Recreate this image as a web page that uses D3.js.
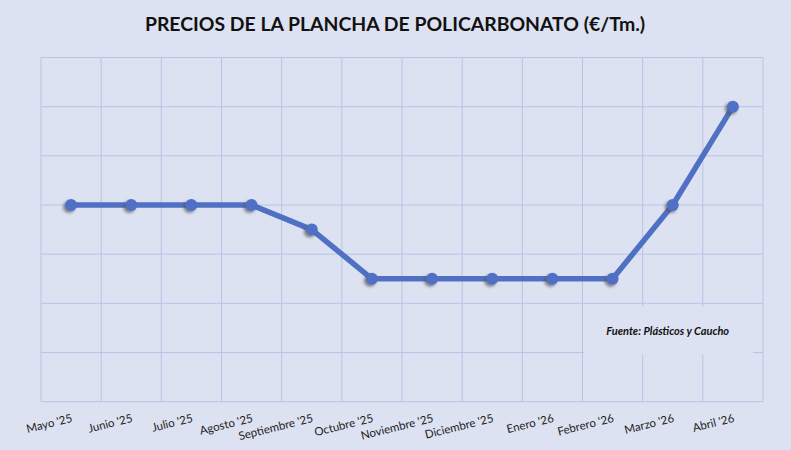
<!DOCTYPE html>
<html>
<head>
  <meta charset="utf-8">
  <title>Precios de la plancha de policarbonato</title>
  <style>
    body { margin: 0; background: #dde2f2; }
    svg { display: block; }
    .grid line { stroke: #b8c4e6; stroke-width: 1; }
    .tick-label { font-family: Lato, "Open Sans", sans-serif; font-size: 11.5px; fill: #222; }
  </style>
</head>
<body>
  <svg width="791" height="450"></svg>

  <script src="https://cdnjs.cloudflare.com/ajax/libs/d3/7.8.5/d3.min.js"></script>
  <script>
    // Datos del gráfico (el original no muestra valores en el eje Y)
    const meses = ["Mayo '25", "Junio '25", "Julio '25", "Agosto '25", "Septiembre '25", "Octubre '25",
                   "Noviembre '25", "Diciembre '25", "Enero '26", "Febrero '26", "Marzo '26", "Abril '26"];
    const precios = [2800, 2800, 2800, 2800, 2750, 2650, 2650, 2650, 2650, 2650, 2800, 3000];
    const yTicks = [2400, 2500, 2600, 2700, 2800, 2900, 3000, 3100];

    const titulo = "PRECIOS DE LA PLANCHA DE POLICARBONATO (€/Tm.)";
    const fuente = "Fuente: Plásticos y Caucho";

    const width = 791, height = 450;
    const margin = { top: 57.5, right: 28, bottom: 48.3, left: 41 };

    const svg = d3.select("svg");

    svg.append("rect")
      .attr("width", width).attr("height", height)
      .attr("fill", "#dde2f2");

    // sombra de los marcadores
    const defs = svg.append("defs");
    defs.append("filter").attr("id", "sombra")
      .attr("x", "-50%").attr("y", "-50%").attr("width", "200%").attr("height", "200%")
      .append("feDropShadow")
      .attr("dx", -2).attr("dy", 2).attr("stdDeviation", 1.5)
      .attr("flood-color", "#555").attr("flood-opacity", 0.7);

    const x = d3.scaleBand()
      .domain(meses)
      .range([margin.left, width - margin.right]);

    const y = d3.scaleLinear()
      .domain([yTicks[0], yTicks[yTicks.length - 1]])
      .range([height - margin.bottom, margin.top]);

    // Cuadrícula horizontal
    svg.append("g").attr("class", "grid")
      .selectAll("line")
      .data(yTicks)
      .join("line")
      .attr("x1", margin.left).attr("x2", width - margin.right)
      .attr("y1", d => y(d)).attr("y2", d => y(d));

    // Cuadrícula vertical (límites de categoría)
    const bordes = meses.map(m => x(m)).concat([x.range()[1]]);
    svg.append("g").attr("class", "grid")
      .selectAll("line")
      .data(bordes)
      .join("line")
      .attr("x1", d => d).attr("x2", d => d)
      .attr("y1", margin.top).attr("y2", height - margin.bottom);

    // Caja de la fuente (tapa la cuadrícula)
    const celda = x.bandwidth();
    const xCaja0 = x(meses[9]) + 2, xCaja1 = x(meses[11]) + celda - 10;
    const yCaja0 = y(yTicks[2]) + 3, yCaja1 = y(yTicks[1]) + 2;
    svg.append("rect")
      .attr("x", xCaja0).attr("y", yCaja0)
      .attr("width", xCaja1 - xCaja0).attr("height", yCaja1 - yCaja0)
      .attr("fill", "#dde2f2");
    svg.append("text")
      .attr("x", (xCaja0 + xCaja1) / 2 - 1)
      .attr("y", (yCaja0 + yCaja1) / 2 + 2)
      .attr("text-anchor", "middle")
      .attr("dominant-baseline", "middle")
      .style("font-family", "Lato, sans-serif")
      .style("font-size", "11px")
      .style("font-weight", "bold")
      .style("font-style", "italic")
      .attr("fill", "#111")
      .text(fuente);

    // Línea
    const linea = d3.line()
      .x((d, i) => x(meses[i]) + celda / 2)
      .y(d => y(d));

    svg.append("path")
      .datum(precios)
      .attr("fill", "none")
      .attr("stroke", "#5070c4")
      .attr("stroke-width", 5.5)
      .attr("stroke-linejoin", "round")
      .attr("d", linea);

    svg.append("g")
      .selectAll("circle")
      .data(precios)
      .join("circle")
      .attr("cx", (d, i) => x(meses[i]) + celda / 2)
      .attr("cy", d => y(d))
      .attr("r", 6)
      .attr("fill", "#5070c4")
      .attr("filter", "url(#sombra)");

    // Etiquetas del eje X
    svg.append("g")
      .selectAll("text")
      .data(meses)
      .join("text")
      .attr("class", "tick-label")
      .attr("text-anchor", "end")
      .attr("transform", d => `translate(${x(d) + celda / 2 + 2},${height - margin.bottom + 20}) rotate(-14)`)
      .text(d => d);

    // Título
    svg.append("text")
      .attr("x", 395)
      .attr("y", 31)
      .attr("text-anchor", "middle")
      .style("font-family", "Lato, sans-serif")
      .style("font-size", "19.4px")
      .style("font-weight", "bold")
      .attr("fill", "#111")
      .text(titulo);
  </script>
</body>
</html>
